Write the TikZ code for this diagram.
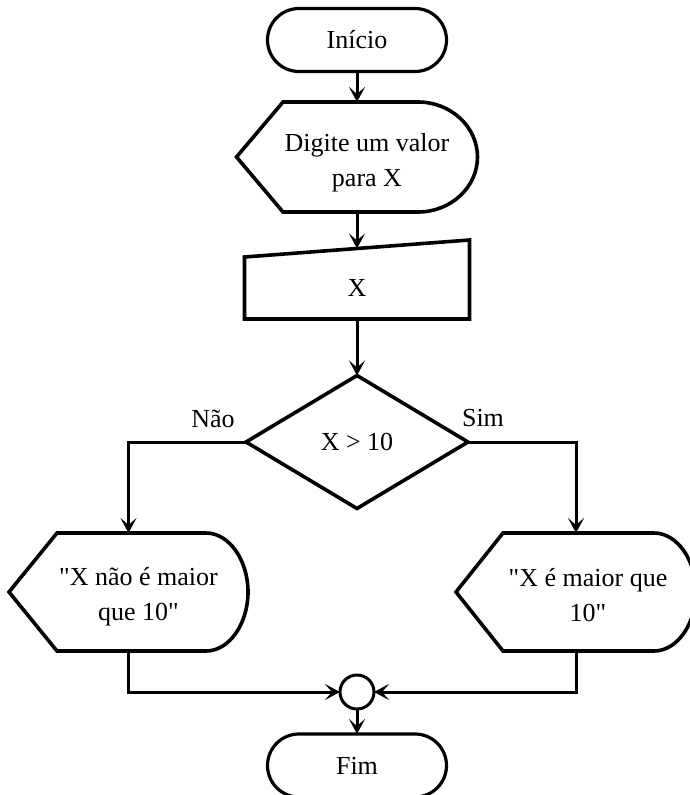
\documentclass[tikz,border=0pt]{standalone}
\usepackage{fontspec}
\setmainfont{Liberation Serif}
\usetikzlibrary{arrows.meta,shapes.misc}

\begin{document}
\begin{tikzpicture}[x=1pt,y=-1pt,
  every node/.style={font=\fontsize{26}{35}\selectfont, inner sep=0pt, outer sep=0pt},
  term/.style={rounded rectangle, draw, line width=3.2pt, minimum width=179pt, minimum height=63pt},
  frame/.style={rectangle},
  outline/.style={line width=3.6pt, line join=miter},
  link/.style={line width=3pt},
  flow/.style={link, -{Stealth[length=15pt,width=16pt,inset=7pt]}},
  junction/.style={circle, draw, line width=3pt, minimum size=34pt},
  caption/.style={align=center}
]
\useasboundingbox (0,0) rectangle (690,795);

% start / end terminals
\node[term] (ini) at (357,40) {Início};
\node[term] (fim) at (357,765.5) {Fim};

% prompt display
\node[frame, minimum width=241pt, minimum height=110pt,
      label={[caption, xshift=10pt, yshift=-6pt]center:Digite um valor\\para X}] (ask) at (357,157) {};
\draw[outline] (236.5,157) -- (283,102) -- (418,102)
  .. controls (451,102) and (477.5,127) .. (477.5,157)
  .. controls (477.5,187) and (451,212) .. (418,212) -- (283,212) -- cycle;

% manual input
\node[frame, minimum width=225pt, minimum height=79pt,
      label={[caption, yshift=-8pt]center:X}] (inp) at (357,279.5) {};
\draw[outline] (244.5,257) -- (469.5,240) -- (469.5,319) -- (244.5,319) -- cycle;
\coordinate (inp-top) at (357,248.5);

% decision
\node[frame, minimum width=222pt, minimum height=133pt] (dec) at (357,442) {X > 10};
\draw[outline] (dec.north) -- (dec.east) -- (dec.south) -- (dec.west) -- cycle;
\node (nao) at (213,419) {Não};
\node (sim) at (483,418) {Sim};

% output displays
\node[frame, minimum width=239pt, minimum height=118pt,
      label={[caption, xshift=10pt, yshift=-5pt]center:\textquotedbl X não é maior\\que 10\textquotedbl}] (no) at (128.5,592) {};
\draw[outline] (9,592) -- (57,533) -- (206,533)
  .. controls (229,533) and (248,560) .. (248,592)
  .. controls (248,624) and (229,651) .. (206,651) -- (57,651) -- cycle;

\node[frame, minimum width=240pt, minimum height=118pt,
      label={[caption, xshift=12pt, yshift=-3pt]center:\textquotedbl X é maior que\\10\textquotedbl}] (yes) at (576,592) {};
\draw[outline] (456,592) -- (503,533) -- (654,533)
  .. controls (677,533) and (696,560) .. (696,592)
  .. controls (696,624) and (677,651) .. (654,651) -- (503,651) -- cycle;

% connector
\node[junction] (j) at (357,692) {};

% flow lines
\draw[flow] (ini.south) -- (ask.north);
\draw[flow] (ask.south) -- (inp-top);
\draw[flow] (inp.south) -- (dec.north);
\draw[flow] (dec.west) -| (no.north);
\draw[flow] (dec.east) -| (yes.north);
\draw[flow] (no.south) |- (j.west);
\draw[flow] (yes.south) |- (j.east);
\draw[flow] (j.south) -- (fim.north);
\end{tikzpicture}
\end{document}
